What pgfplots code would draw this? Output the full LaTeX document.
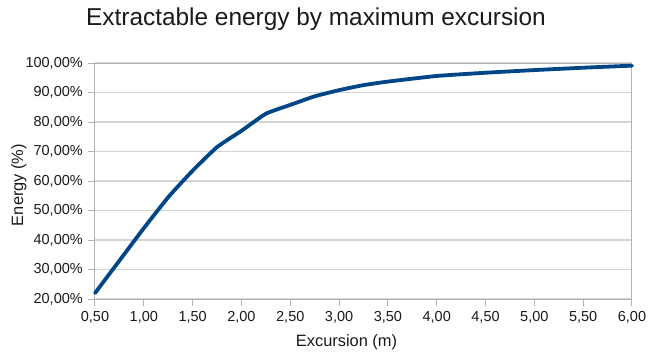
\documentclass[border=0pt]{standalone}
\usepackage{fontspec}
\setmainfont{Liberation Sans}
\usepackage{pgfplots}
\pgfplotsset{compat=1.18}
\definecolor{lineblue}{HTML}{004586}
\definecolor{gridgray}{HTML}{D4D4D4}
\definecolor{axisgray}{HTML}{B3B3B3}
\definecolor{txt}{HTML}{1A1A1A}
\begin{document}
\begin{tikzpicture}[x=1pt,y=1pt]
\useasboundingbox (-95,-58) rectangle (554,299);
\begin{axis}[at={(0,0)},anchor=south west, scale only axis,
  width=537pt, height=236pt,
  xmin=0.5, xmax=6, ymin=20, ymax=100,
  xtick={0.5,1,1.5,2,2.5,3,3.5,4,4.5,5,5.5,6},
  ytick={20,30,40,50,60,70,80,90,100},
  xticklabels={{0,50},{1,00},{1,50},{2,00},{2,50},{3,00},{3,50},{4,00},{4,50},{5,00},{5,50},{6,00}},
  yticklabels={{20,00\%},{30,00\%},{40,00\%},{50,00\%},{60,00\%},{70,00\%},{80,00\%},{90,00\%},{100,00\%}},
  ymajorgrids=true, major grid style={gridgray, line width=1.1pt},
  axis line style={axisgray, line width=1pt},
  tick style={axisgray, line width=1pt},
  tick align=outside, major tick length=7pt,
  xtick pos=bottom, ytick pos=left,
  ticklabel style={font=\fontsize{14.5}{17}\selectfont, text=txt},
  yticklabel style={inner sep=0pt, xshift=-5pt},
  xticklabel style={inner sep=0pt, yshift=-5pt},
  clip=false,
]
\addplot[lineblue, line width=3.8pt, line join=round, line cap=round, smooth, tension=0.3] coordinates {
(0.5,22.0) (0.75,33.0) (1.0,44.0) (1.25,54.5) (1.5,63.5) (1.75,71.5) (2.0,77.0)
(2.25,82.8) (2.5,85.8) (2.75,88.7) (3.0,90.8) (3.25,92.5) (3.5,93.7)
(4.0,95.6) (4.5,96.7) (5.0,97.6) (5.5,98.4) (6.0,99.1)
};
\end{axis}
\node[font=\fontsize{24.4}{28}\selectfont, text=txt] at (221,280) {Extractable energy by maximum excursion};
\node[font=\fontsize{16.4}{19}\selectfont, text=txt] at (251.5,-43) {Excursion (m)};
\node[font=\fontsize{16.4}{19}\selectfont, text=txt, rotate=90] at (-76,114) {Energy (\%)};
\end{tikzpicture}
\end{document}
